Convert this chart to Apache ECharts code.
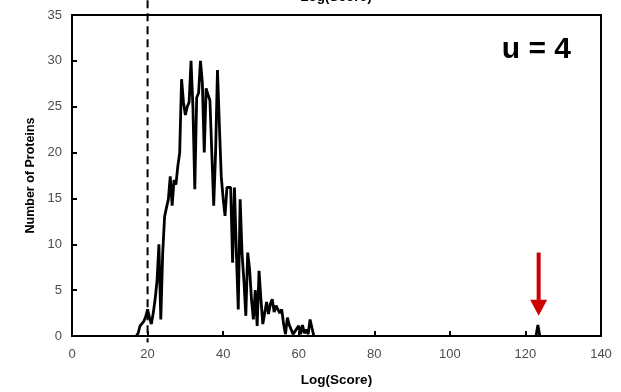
<!DOCTYPE html>
<html>
<head>
<meta charset="utf-8">
<script src="https://cdn.jsdelivr.net/npm/echarts@6/dist/echarts.min.js"></script>
<style>
html,body{margin:0;padding:0;background:#fff;}
#chart{width:621px;height:392px;}
</style>
</head>
<body>
<div id="chart"></div>
<script>
// Log(Score) values (x) and number of proteins (y) — main distribution
var scoreX = [
  17.0,17.5,18.0,18.5,19.0,19.5,20.0,20.5,21.0,21.5,
  22.0,22.5,23.0,23.5,24.0,24.5,25.0,25.5,26.0,26.5,
  27.0,27.5,28.0,28.5,29.0,29.5,30.0,30.5,31.0,31.5,
  32.0,32.5,33.0,33.5,34.0,34.5,35.0,35.5,36.0,36.5,
  37.0,37.5,38.0,38.5,39.0,39.5,40.0,40.5,41.0,41.5,
  42.0,42.5,43.0,43.5,44.0,44.5,45.0,45.5,46.0,46.5,
  47.0,47.5,48.0,48.5,49.0,49.5,50.0,50.5,51.0,51.5,
  52.0,52.5,53.0,53.5,54.0,54.5,55.0,55.5,56.0,56.5,
  57.0,57.5,58.0,58.5,59.0,59.5,60.0,60.5,61.0,61.5,
  62.0,62.5,63.0,63.5,64.0
];
var proteinCount = [
  0,0.3,1.1,1.0,1.6,2.1,2.9,2.0,1.3,2.5,
  4,6,10,1.8,9,13,14,14.9,17.4,14.2,
  17,16.5,18.5,20,28,25.5,24.1,25,25.5,30,
  25,16,26,26.5,30,27.6,20,27,26.3,25.7,
  20,14.2,20,29,23,17.4,15,13.1,16.2,16,
  16.2,8,16.2,9,2.9,14.9,9,6,2.2,9.1,
  7.3,4,1.8,5,1.1,7.1,4,1.3,2.5,3.7,
  2.4,3.5,4,2.6,3.3,3.1,2.5,2.9,1.3,0.2,
  2,1.2,0.7,0.2,0,0.8,1.1,0.2,1.2,0.3,
  0.7,0.2,1.8,2.0,0
];
// isolated high-scoring protein
var outlierX = [122.8, 123.3, 123.8];
var outlierCount = [0, 1.2, 0];
var xTicks = [0,20,40,60,80,100,120,140];
var yTicks = [0,5,10,15,20,25,30,35];
var cutoffX = 20;
var markedX = 123.5;

var pairs = scoreX.map(function(x, i){ return [x, proteinCount[i]]; });
var outPairs = outlierX.map(function(x, i){ return [x, outlierCount[i]]; });

var chart = echarts.init(document.getElementById('chart'));
var font = 'Liberation Sans, Arial, sans-serif';
chart.setOption({
  animation: false,
  grid: {left: 72, right: 20, top: 15, bottom: 55, show: true, borderColor: '#000', borderWidth: 2, backgroundColor: 'transparent'},
  xAxis: {
    type: 'value', min: xTicks[0], max: xTicks[xTicks.length-1], interval: 20,
    name: 'Log(Score)', nameLocation: 'middle', nameGap: 37,
    nameTextStyle: {fontFamily: font, fontSize: 13.5, fontWeight: 'bold', color: '#000'},
    axisLine: {show: true, lineStyle: {color: '#000', width: 2}},
    axisTick: {show: true, inside: true, length: 5, lineStyle: {color: '#000', width: 2}},
    axisLabel: {fontFamily: font, fontSize: 13, color: '#4d4d4d', margin: 12},
    splitLine: {show: false}
  },
  yAxis: {
    type: 'value', min: yTicks[0], max: yTicks[yTicks.length-1], interval: 5,
    name: 'Number of Proteins', nameLocation: 'middle', nameGap: 35,
    nameTextStyle: {fontFamily: font, fontSize: 12.5, fontWeight: 'bold', color: '#000'},
    axisLine: {show: true, lineStyle: {color: '#000', width: 2}},
    axisTick: {show: true, inside: true, length: 5, lineStyle: {color: '#000', width: 2}},
    axisLabel: {fontFamily: font, fontSize: 13, color: '#4d4d4d', margin: 10},
    splitLine: {show: false}
  },
  series: [{
    type: 'line', data: pairs, showSymbol: false, smooth: false,
    lineStyle: {color: '#000', width: 2.8}, z: 3
  }, {
    type: 'line', data: outPairs, showSymbol: false, smooth: false,
    lineStyle: {color: '#000', width: 2.8}, z: 3
  }]
});

var dTop = chart.convertToPixel({gridIndex: 0}, [cutoffX, 36.6]);
var dBot = chart.convertToPixel({gridIndex: 0}, [cutoffX, -0.7]);
var aTop = chart.convertToPixel({gridIndex: 0}, [markedX, 9.1]);
var aTip = chart.convertToPixel({gridIndex: 0}, [markedX, 2.2]);
var headH = 16, headW = 8.5;
chart.setOption({
  graphic: [
    {type: 'line', shape: {x1: dTop[0], y1: dTop[1], x2: dBot[0], y2: dBot[1]},
     style: {stroke: '#000', lineWidth: 2, lineDash: [8, 5]}, z: 10},
    {type: 'rect', shape: {x: aTop[0]-2, y: aTop[1], width: 4, height: aTip[1]-aTop[1]-headH+1},
     style: {fill: '#cc0000'}, z: 10},
    {type: 'polygon', shape: {points: [[aTip[0]-headW, aTip[1]-headH], [aTip[0]+headW, aTip[1]-headH], [aTip[0], aTip[1]]]},
     style: {fill: '#cc0000'}, z: 10},
    {type: 'text', x: 571, y: 50,
     style: {text: 'u = 4', fontFamily: font, fontSize: 30, fontWeight: 'bold', fill: '#000', align: 'right', verticalAlign: 'middle'}, z: 10},
    {type: 'text', x: 336, y: 4,
     style: {text: 'Log(Score)', fontFamily: font, fontSize: 13.5, fontWeight: 'bold', fill: '#000', align: 'center', verticalAlign: 'bottom'}, z: 10}
  ]
});
</script>
</body>
</html>
